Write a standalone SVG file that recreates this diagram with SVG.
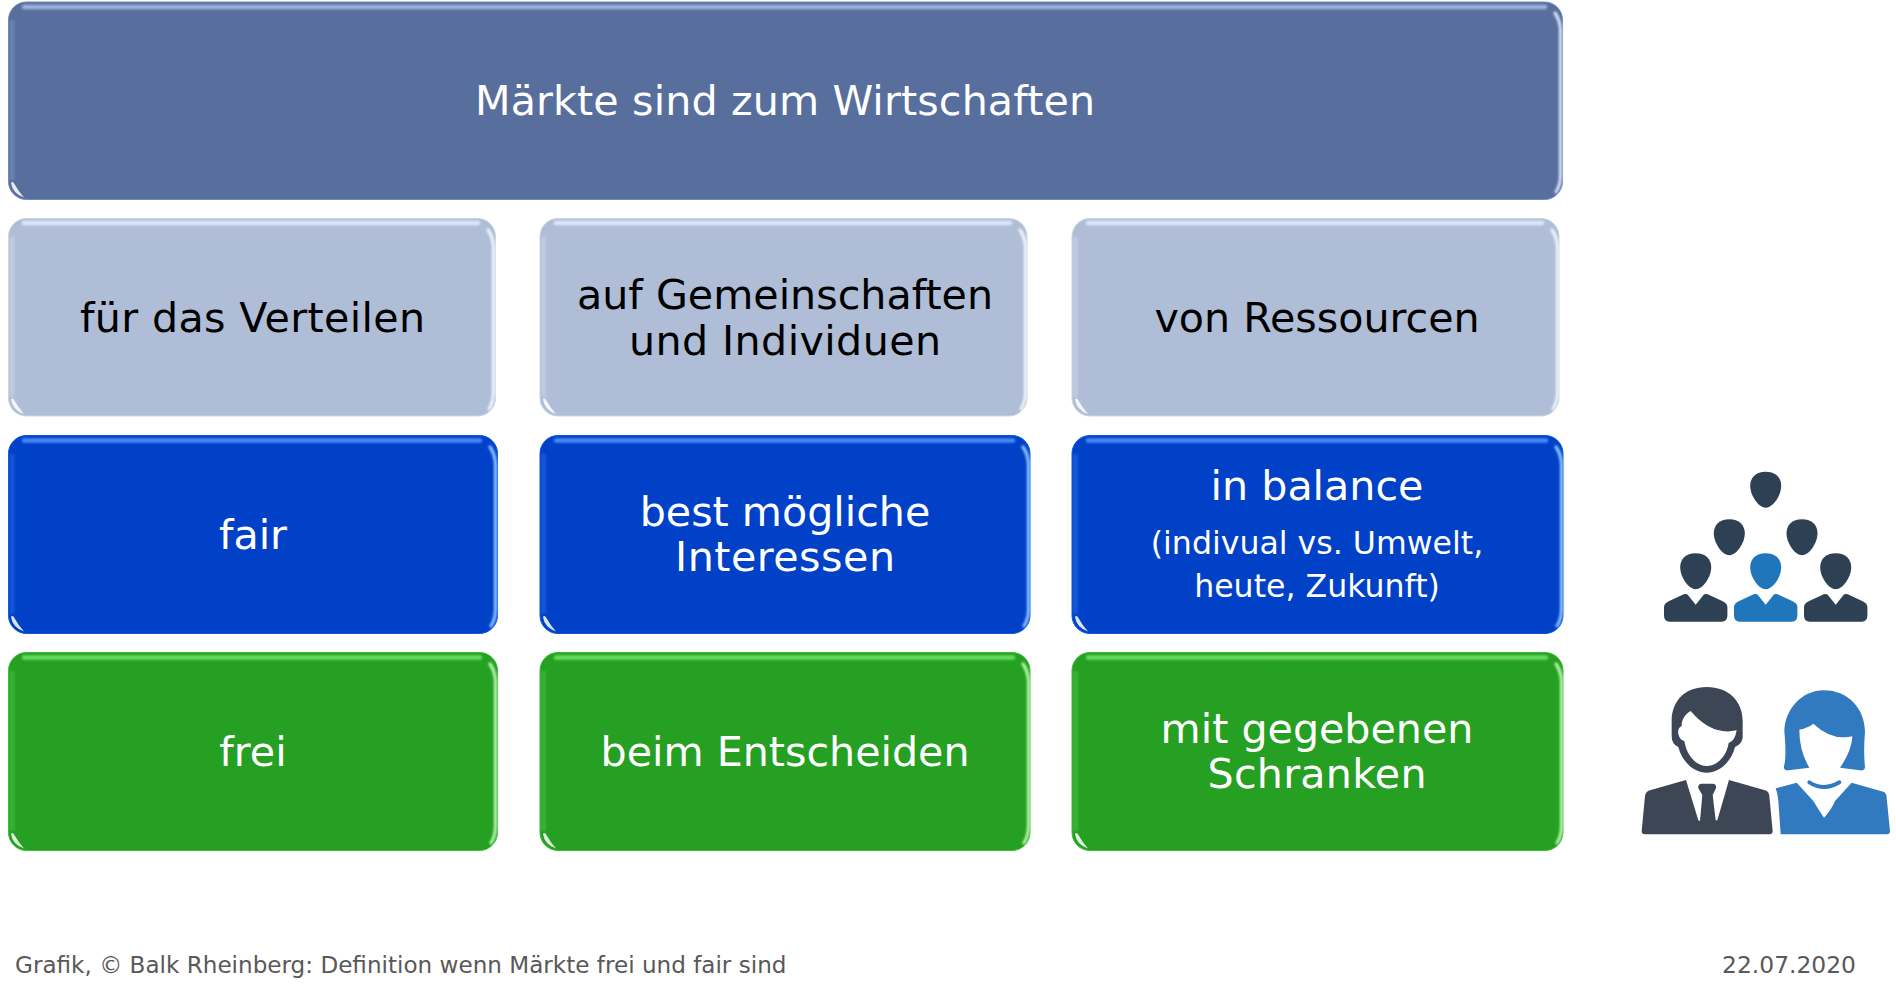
<svg xmlns="http://www.w3.org/2000/svg" width="1896" height="991" viewBox="0 0 1896 991">
<style>
text{font-family:"DejaVu Sans","Liberation Sans",sans-serif;text-anchor:middle}
.t{font-size:41.2px}.s{font-size:31.6px}.w{fill:#fff}.k{fill:#000}
.f{font-size:23.1px;fill:#595959}
.g{fill:#fff;opacity:.85;filter:url(#b)}
.top{fill:none;stroke-width:4.5;filter:url(#b0);stroke-linecap:round}
.right{fill:none;stroke-width:3.2;filter:url(#b0);stroke-linecap:round}
.left{filter:url(#b1);opacity:.35}
.title .base{fill:#586e9c;stroke:#7188ba}.title .top{stroke:#a0b3de}.title .right{stroke:#d6e2f7}.title .left{fill:#93a8d4}
.gray .base{fill:#afbdd6;stroke:#c9d5e8}.gray .top{stroke:#dfe7f5}.gray .right{stroke:#f0f5fc}.gray .left{fill:#dfe7f5}
.blue .base{fill:#0041c8;stroke:#0c57e0}.blue .top{stroke:#4a8af5}.blue .right{stroke:#8cc4ff}.blue .left{fill:#3f80f0}
.green .base{fill:#25a022;stroke:#3fbb3a}.green .top{stroke:#68dc5e}.green .right{stroke:#b8f5ae}.green .left{fill:#5ed455}
.d{fill:#2e4053}.c{fill:#1f76bb}
</style>
<defs>
<filter id="b" x="-50%" y="-50%" width="200%" height="200%"><feGaussianBlur stdDeviation="0.6"/></filter>
<filter id="b0" x="-20%" y="-20%" width="140%" height="140%" filterUnits="userSpaceOnUse" primitiveUnits="userSpaceOnUse"><feGaussianBlur stdDeviation="0.9"/></filter>
<filter id="b1" x="-100%" y="-10%" width="300%" height="120%"><feGaussianBlur stdDeviation="1.3"/></filter>
<path id="glint" d="M3,-16.500Q4.500,-6 16,-2Q10.500,-8 5.500,-17Q3.500,-18 3,-16.500Z"/>
<path id="body" d="M-26,68.5Q-31.7,68.5 -31.7,62L-31.7,54Q-31.7,50 -27,48L-12,41Q-9,40 -8,41.5L0,51.5L8,41.5Q9,40 12,41L27,48Q31.7,50 31.7,54L31.7,62Q31.7,68.5 26,68.5Z"/>
<path id="head" d="M0,0C10,0 15.5,6 15.5,14C15.5,24 7,36 0,36C-7,36 -15.5,24 -15.5,14C-15.5,6 -10,0 0,0Z"/>
</defs>
<rect width="1896" height="991" fill="#fff"/>

<g id="node-title" class="title">
<rect class="base" x="8.500" y="2" width="1554" height="197.500" rx="18"/>
<rect class="left" x="9.500" y="20" width="5" height="160"/>
<path class="top" d="M24,7H1545"/>
<path class="right" d="M1555,13Q1560,20 1560.500,30V175Q1560.500,185 1556,192"/>
<use class="g" href="#glint" x="8" y="199.500"/>
<text class="t w" x="785" y="115" textLength="620">Märkte sind zum Wirtschaften</text>
</g>

<g id="node-verteilen" class="gray">
<rect class="base" x="8.500" y="218.500" width="487" height="197.500" rx="18"/>
<rect class="left" x="9.500" y="237" width="5" height="160"/>
<path class="top" d="M24,223H478"/>
<path class="right" d="M488,230Q493,237 493.500,247V392Q493.500,402 489,409"/>
<use class="g" href="#glint" x="8" y="416"/>
<text class="t k" x="252.500" y="332" textLength="345">für das Verteilen</text>
</g>
<g id="node-gemeinschaften" class="gray">
<rect class="base" x="540" y="218.500" width="487" height="197.500" rx="18"/>
<rect class="left" x="541" y="237" width="5" height="160"/>
<path class="top" d="M556,223H1010"/>
<path class="right" d="M1020,230Q1025,237 1025.500,247V392Q1025.500,402 1021,409"/>
<use class="g" href="#glint" x="540" y="416"/>
<text class="t k" x="785" y="309">auf Gemeinschaften</text>
<text class="t k" x="785" y="354.500" textLength="312">und Individuen</text>
</g>
<g id="node-ressourcen" class="gray">
<rect class="base" x="1072" y="218.500" width="487" height="197.500" rx="18"/>
<rect class="left" x="1073" y="237" width="5" height="160"/>
<path class="top" d="M1088,223H1542"/>
<path class="right" d="M1552,230Q1557,237 1557.500,247V392Q1557.500,402 1553,409"/>
<use class="g" href="#glint" x="1072" y="416"/>
<text class="t k" x="1317" y="332">von Ressourcen</text>
</g>

<g id="node-fair" class="blue">
<rect class="base" x="8.500" y="435.500" width="489" height="198" rx="18"/>
<rect class="left" x="9.500" y="454" width="5" height="160"/>
<path class="top" d="M24,440.500H480"/>
<path class="right" d="M490,447Q495,454 495.500,464V609Q495.500,619 491,626"/>
<use class="g" href="#glint" x="8" y="633.500"/>
<text class="t w" x="253" y="549">fair</text>
</g>
<g id="node-interessen" class="blue">
<rect class="base" x="540" y="435.500" width="490" height="198" rx="18"/>
<rect class="left" x="541" y="454" width="5" height="160"/>
<path class="top" d="M556,440.500H1013"/>
<path class="right" d="M1023,447Q1028,454 1028.500,464V609Q1028.500,619 1024,626"/>
<use class="g" href="#glint" x="540" y="633.500"/>
<text class="t w" x="785" y="526">best mögliche</text>
<text class="t w" x="785" y="571" textLength="220">Interessen</text>
</g>
<g id="node-balance" class="blue">
<rect class="base" x="1072" y="435.500" width="491" height="198" rx="18"/>
<rect class="left" x="1073" y="454" width="5" height="160"/>
<path class="top" d="M1088,440.500H1546"/>
<path class="right" d="M1556,447Q1561,454 1561.500,464V609Q1561.500,619 1557,626"/>
<use class="g" href="#glint" x="1072" y="633.500"/>
<text class="t w" x="1317" y="499.500">in balance</text>
<text class="s w" x="1317" y="554">(indivual vs. Umwelt,</text>
<text class="s w" x="1317" y="597">heute, Zukunft)</text>
</g>

<g id="node-frei" class="green">
<rect class="base" x="8.500" y="652.500" width="489" height="198" rx="18"/>
<rect class="left" x="9.500" y="671" width="5" height="160"/>
<path class="top" d="M24,657.500H480"/>
<path class="right" d="M490,664Q495,671 495.500,681V826Q495.500,836 491,843"/>
<use class="g" href="#glint" x="8" y="850.500"/>
<text class="t w" x="253" y="766">frei</text>
</g>
<g id="node-entscheiden" class="green">
<rect class="base" x="540" y="652.500" width="490" height="198" rx="18"/>
<rect class="left" x="541" y="671" width="5" height="160"/>
<path class="top" d="M556,657.500H1013"/>
<path class="right" d="M1023,664Q1028,671 1028.500,681V826Q1028.500,836 1024,843"/>
<use class="g" href="#glint" x="540" y="850.500"/>
<text class="t w" x="785" y="766">beim Entscheiden</text>
</g>
<g id="node-schranken" class="green">
<rect class="base" x="1072" y="652.500" width="491" height="198" rx="18"/>
<rect class="left" x="1073" y="671" width="5" height="160"/>
<path class="top" d="M1088,657.500H1546"/>
<path class="right" d="M1556,664Q1561,671 1561.500,681V826Q1561.500,836 1557,843"/>
<use class="g" href="#glint" x="1072" y="850.500"/>
<text class="t w" x="1317" y="743">mit gegebenen</text>
<text class="t w" x="1317" y="788" textLength="219">Schranken</text>
</g>

<g id="icon-group">
<use class="d" href="#head" x="1765.700" y="471.700"/>
<use class="d" href="#head" x="1729.300" y="519.300"/>
<use class="d" href="#head" x="1802" y="519.300"/>
<g class="d" transform="translate(1695.700 553.300)"><use href="#head"/><use href="#body"/></g>
<g class="c" transform="translate(1765.700 553.300)"><use href="#head"/><use href="#body"/></g>
<g class="d" transform="translate(1835.700 553.300)"><use href="#head"/><use href="#body"/></g>
</g>

<g id="icon-man" fill="#3d4654" transform="translate(1600 661) scale(.33333)">
<path fill-rule="evenodd" d="M320,78C385,78 428,120 428,180L428,230Q425,250 405,258C395,300 360,335 320,335C280,335 245,300 235,258Q215,250 215,225L215,180C215,120 255,78 320,78ZM272,150C255,160 245,175 245,195Q232,200 235,220Q240,238 253,240C260,285 290,315 320,315C352,315 380,285 386,246Q405,240 410,208Q335,225 272,150Z"/>
<path d="M125,510L135,405Q137,392 150,388L258,357L295,478L300,480L307,402L295,382Q293,368 305,368L338,368Q350,368 348,382L338,402L347,478L352,478L387,357L495,388Q507,392 508,405L518,510Q518,520 508,520L135,520Q125,520 125,510Z"/>
</g>
<g id="icon-woman" fill="#317abf" transform="translate(1600 661) scale(.33333)">
<path d="M672,88C745,88 795,145 795,212Q790,270 795,318Q795,330 780,328L720,320Q755,270 757,226Q695,240 640,188Q625,200 598,206Q598,270 628,320L565,328Q550,330 552,315Q560,290 553,210C555,145 605,88 672,88Z"/>
<path d="M628,364Q672,392 718,364" fill="none" stroke="#317abf" stroke-width="12" stroke-linecap="round"/>
<path d="M527,382L590,365L640,420Q655,445 672,470Q695,445 705,420L755,365L850,392Q860,395 860,410L870,510Q870,520 860,520L542,520L535,420Q532,395 527,382Z"/>
</g>

<g id="footer">
<text class="f" x="15" y="973" style="text-anchor:start">Grafik, © Balk Rheinberg: Definition wenn Märkte frei und fair sind</text>
<text class="f" x="1856" y="973" style="text-anchor:end;font-size:23.4px">22.07.2020</text>
</g>
</svg>
